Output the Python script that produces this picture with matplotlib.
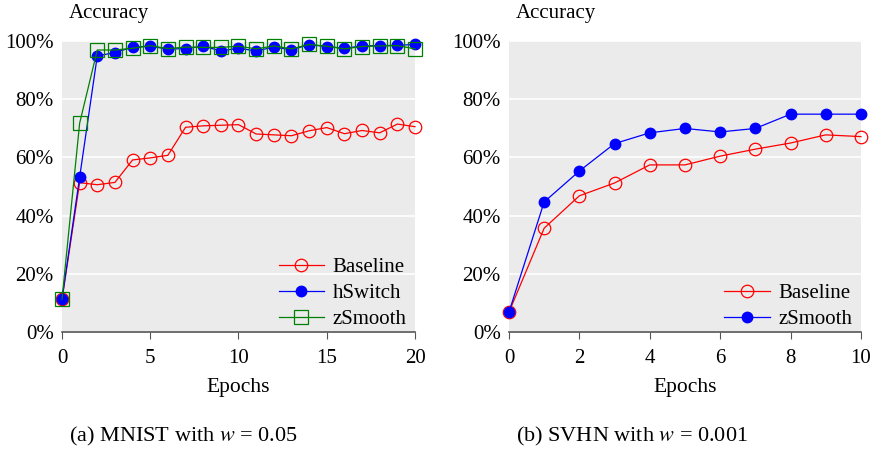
import matplotlib.pyplot as plt
import numpy as np
from matplotlib.ticker import FuncFormatter

# dati (accuratezza in %)
epochs_mnist = np.arange(0, 21)
mnist_baseline = [11.3, 51.3, 50.6, 51.4, 59.1, 59.8, 60.7, 70.3, 70.8, 71.0, 71.2,
                  68.0, 67.7, 67.4, 69.1, 70.2, 68.1, 69.2, 68.4, 71.4, 70.5]
mnist_hswitch = [11.3, 53.2, 94.8, 95.9, 97.8, 98.1, 97.1, 97.3, 98.1, 96.5, 97.4,
                 96.5, 97.8, 96.9, 98.6, 98.0, 97.4, 98.2, 98.3, 98.4, 98.7]
mnist_zsmooth = [11.3, 71.7, 96.8, 96.8, 97.4, 98.3, 97.3, 97.8, 97.7, 97.7, 98.1,
                 97.2, 98.2, 97.2, 98.7, 98.1, 97.2, 98.0, 98.2, 98.3, 97.2]

epochs_svhn = np.arange(0, 11)
svhn_baseline = [6.9, 35.7, 46.8, 51.2, 57.4, 57.4, 60.4, 62.8, 64.9, 67.7, 67.1]
svhn_zsmooth = [6.9, 44.7, 55.3, 64.7, 68.4, 69.9, 68.7, 69.9, 74.8, 74.8, 74.8]

plt.rcParams['font.family'] = ['Liberation Serif', 'DejaVu Serif']
plt.rcParams['mathtext.fontset'] = 'stix'

fig = plt.figure(figsize=(8.83, 4.53), dpi=100)
ax1 = fig.add_axes([0.0702, 0.2665, 0.3998, 0.6437])
ax2 = fig.add_axes([0.5764, 0.2665, 0.3986, 0.6437])

red = dict(color='red', marker='o', mfc='none', mec='red', ms=9, lw=0.9, mew=0.9)
blue = dict(color='blue', marker='o', mfc='blue', mec='blue', ms=7.5, lw=0.9)
green = dict(color='green', marker='s', mfc='none', mec='green', ms=9.5, lw=0.9, mew=0.9)


def stile(ax, xmax, xticks, caption):
    ax.set_facecolor('#ebebeb')
    ax.set_xlim(0, xmax)
    ax.set_ylim(0, 100)
    ax.set_xticks(xticks)
    ax.set_yticks(np.arange(0, 101, 20))
    ax.yaxis.set_major_formatter(FuncFormatter(lambda v, p: f'{v:.0f}%'))
    ax.grid(axis='y', color='white', lw=1.2)
    ax.set_axisbelow(True)
    for s in ['top', 'right', 'left']:
        ax.spines[s].set_visible(False)
    ax.spines['bottom'].set_color('#555555')
    ax.spines['bottom'].set_linewidth(1.2)
    ax.tick_params(axis='x', direction='out', length=5, color='#555555', labelsize=15, pad=7)
    ax.tick_params(axis='y', length=0, labelsize=15, pad=6)
    ax.set_xlabel('Epochs', fontsize=15.5, labelpad=7)
    ax.text(0.02, 1.06, 'Accuracy', transform=ax.transAxes, fontsize=15, va='bottom')
    ax.text(0.02, -0.356, caption, transform=ax.transAxes, fontsize=16, va='center')
    ax.legend(loc='lower right', bbox_to_anchor=(1.0, -0.017), frameon=False, fontsize=15,
              handlelength=2.2, handletextpad=0.4, labelspacing=0.3, borderaxespad=0.0)


ax1.plot(epochs_mnist, mnist_baseline, label='Baseline', **red)
ax1.plot(epochs_mnist, mnist_hswitch, label='hSwitch', **blue)
ax1.plot(epochs_mnist, mnist_zsmooth, label='zSmooth', **green)
stile(ax1, 20, [0, 5, 10, 15, 20], '(a) MNIST with $w$ = 0.05')

ax2.plot(epochs_svhn, svhn_baseline, label='Baseline', **red)
ax2.plot(epochs_svhn, svhn_zsmooth, label='zSmooth', **blue)
stile(ax2, 10, [0, 2, 4, 6, 8, 10], '(b) SVHN with $w$ = 0.001')

for ax in (ax1, ax2):
    for l in ax.lines:
        l.set_clip_on(False)

fig.savefig('out.png', dpi=100)
